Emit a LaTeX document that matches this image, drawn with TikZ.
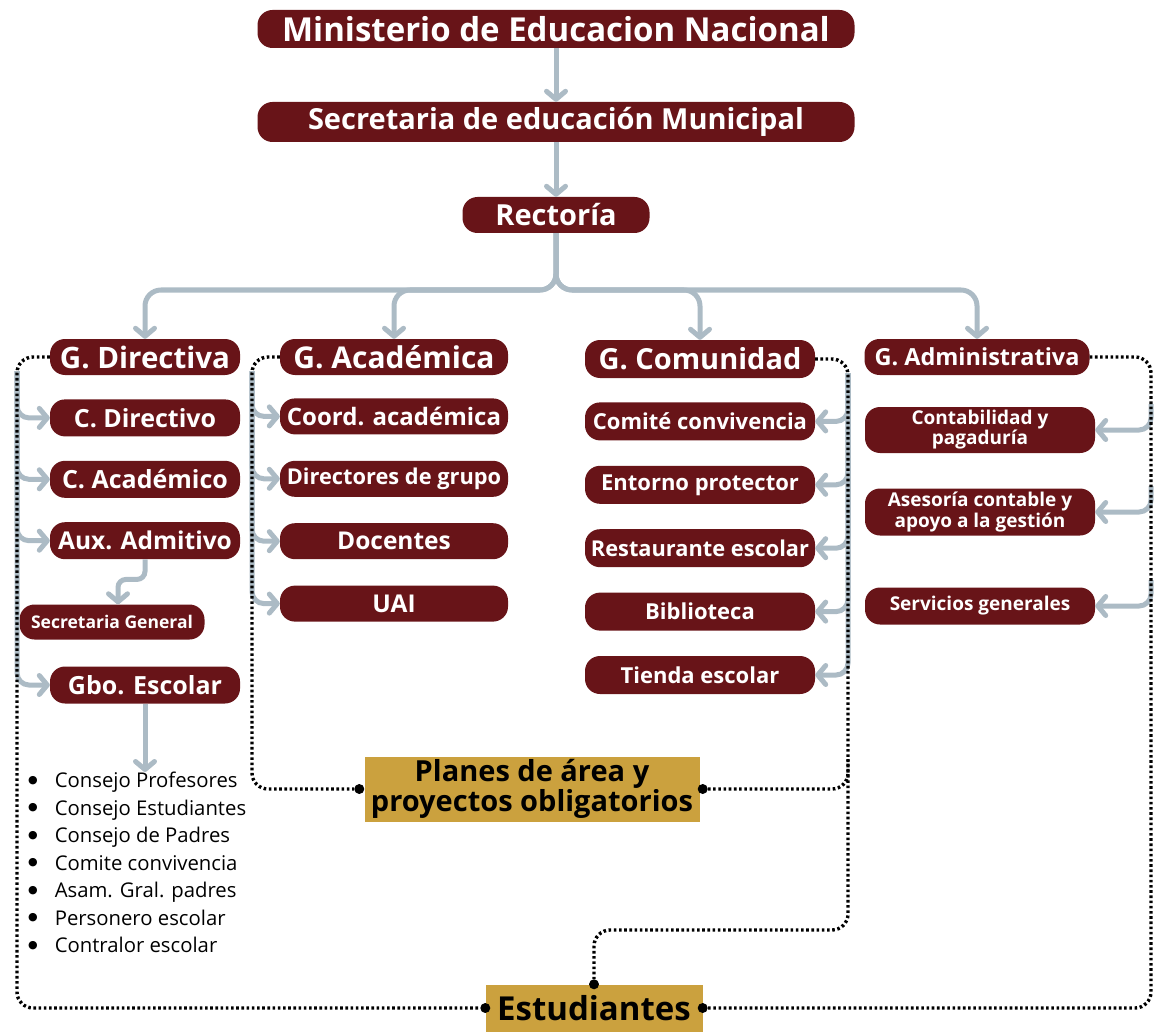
\documentclass[tikz,border=0pt]{standalone}
\usepackage{fontspec}
\setmainfont{Open Sans}
\newfontfamily\symfont{DejaVu Sans}
\usetikzlibrary{positioning, arrows.meta, calc}

\definecolor{vino}{RGB}{104,20,24}
\definecolor{dorado}{RGB}{203,161,62}
\definecolor{gris}{RGB}{172,187,197}

\newcommand{\fsz}[2]{\fontsize{#1}{#2}\selectfont}
\newcommand{\bala}{\raisebox{4.5pt}{\symfont\fsz{11}{11}●}\hspace{17pt}}

\begin{document}
\begin{tikzpicture}[
    x=1pt, y=-1pt,
    pill/.style={
        rectangle,
        rounded corners=15pt,
        fill=vino,
        text=white,
        inner sep=0pt,
        minimum height=37pt,
        align=center,
        font=\bfseries
    },
    dirbox/.style={pill, minimum width=190pt, font=\fsz{25}{29}\bfseries},
    acabox/.style={pill, minimum width=228pt, minimum height=36pt},
    combox/.style={pill, minimum width=230pt, minimum height=38pt, font=\fsz{22}{26}\bfseries},
    admbox/.style={pill, minimum width=230pt, font=\fsz{19}{17}\bfseries},
    goldbox/.style={
        rectangle,
        fill=dorado,
        text=black,
        inner sep=0pt,
        align=center,
        font=\bfseries
    },
    conn/.style={
        draw=gris,
        line width=5pt,
        -{Straight Barb[length=8pt, width=19pt, round]},
        rounded corners=12pt
    },
    dots/.style={
        draw=black,
        line width=3.4pt,
        dash pattern=on 2.6pt off 2.6pt,
        rounded corners=16pt
    },
    blob/.style={
        circle,
        fill=black,
        inner sep=0pt,
        minimum size=10pt
    }
]
    \useasboundingbox (0,0) rectangle (1156,1032);

    % -- Top of the hierarchy --
    \node[pill, minimum width=597pt, minimum height=38pt, font=\fsz{33}{36}\bfseries] (men) at (556,29) {Ministerio de Educacion Nacional};
    \node[pill, minimum width=597pt, minimum height=40pt, font=\fsz{29}{33}\bfseries] (sem) at (556,122) {Secretaria de educación Municipal};
    \node[pill, minimum width=187pt, minimum height=36pt, font=\fsz{29}{33}\bfseries] (rect) at (556,215) {Rectoría};

    % -- The four areas --
    \node[pill, minimum width=190pt, minimum height=36pt, font=\fsz{29.5}{33}\bfseries] (gdir) at (145,357) {G. Directiva};
    \node[acabox, font=\fsz{30}{34}\bfseries] (gaca) at (394,357) {G. Académica};
    \node[pill, minimum width=230pt, minimum height=38pt, font=\fsz{29}{33}\bfseries] (gcom) at (700,359) {G. Comunidad};
    \node[pill, minimum width=225pt, minimum height=36pt, font=\fsz{23.5}{27}\bfseries] (gadm) at (977,357) {G. Administrativa};

    % -- G. Directiva --
    \node[dirbox, below=24pt of gdir] (cdir) {C. Directivo};
    \node[dirbox, below=24pt of cdir] (cacad) {C. Académico};
    \node[dirbox, font=\fsz{24.5}{29}\bfseries, below=24pt of cacad] (aux) {Aux. Admitivo};
    \node[pill, minimum width=185pt, minimum height=35pt, font=\fsz{17.5}{20}\bfseries] (sgen) at (112,622) {Secretaria General};
    \node[dirbox] (gbo) at (145,685) {Gbo. Escolar};

    \node[anchor=north west, inner sep=0pt, align=left, font=\fsz{20.3}{27.5}] (lista) at (28,772) {%
        \bala Consejo Profesores\\
        \bala Consejo Estudiantes\\
        \bala Consejo de Padres\\
        \bala Comite convivencia\\
        \bala Asam. Gral. padres\\
        \bala Personero escolar\\
        \bala Contralor escolar};

    % -- G. Académica --
    \node[acabox, font=\fsz{24}{28}\bfseries, below=23pt of gaca] (coord) {Coord. académica};
    \node[acabox, font=\fsz{21.8}{26}\bfseries, below=26pt of coord] (dgrupo) {Directores de grupo};
    \node[acabox, font=\fsz{24.5}{28}\bfseries, below=26pt of dgrupo] (doc) {Docentes};
    \node[acabox, font=\fsz{24.5}{28}\bfseries, below=26pt of doc] (uai) {UAI};

    % -- G. Comunidad --
    \node[combox, below=24pt of gcom] (ccon) {Comité convivencia};
    \node[combox, below=25pt of ccon] (ento) {Entorno protector};
    \node[combox, font=\fsz{21.8}{26}\bfseries, below=25pt of ento] (rest) {Restaurante escolar};
    \node[combox, below=25pt of rest] (bibl) {Biblioteca};
    \node[combox, below=25pt of bibl] (tien) {Tienda escolar};

    % -- G. Administrativa --
    \node[admbox, minimum height=46pt] (cont) at (980,430) {Contabilidad y\\pagaduría};
    \node[admbox, minimum height=47pt] (ases) at (980,512) {Asesoría contable y\\apoyo a la gestión};
    \node[admbox] (serv) at (980,606) {Servicios generales};

    % -- Gold boxes and their dots --
    \node[goldbox, minimum width=335pt, minimum height=65pt, font=\fsz{29}{27}\bfseries] (plan) at (532,789) {Planes de área y\\proyectos obligatorios};
    \node[goldbox, minimum width=217pt, minimum height=47pt, font=\fsz{33}{36}\bfseries] (est) at (594,1008) {Estudiantes};

    \node[blob] (planL) at ($(plan.west)+(-5,0)$) {};
    \node[blob] (planR) at ($(plan.east)+(3,0)$) {};
    \node[blob] (estL) at (est.west) {};
    \node[blob] (estR) at (est.east) {};
    \node[blob] (estT) at (est.north) {};

    \coordinate (split) at (556,290);
    \coordinate (busdir) at (17,0);
    \coordinate (busaca) at (252,0);
    \coordinate (buscom) at (848,0);
    \coordinate (busadm) at (1151,0);
    \coordinate (estmid) at (0,930);

    % Gray arrows down the hierarchy
    \draw[conn] (men.south) -- (sem.north);
    \draw[conn] (sem.south) -- (rect.north);
    \draw[conn, rounded corners=16pt] (rect.south) -- (split) -| (gdir.north);
    \draw[conn, rounded corners=16pt] (rect.south) -- (split) -| (gaca.north);
    \draw[conn, rounded corners=16pt] (rect.south) -- (split) -| (gcom.north);
    \draw[conn, rounded corners=16pt] (rect.south) -- (split) -| (gadm.north);

    \foreach \n in {cdir, cacad, aux, gbo}
        \draw[conn] ($(gdir.west -| busdir)+(0,14)$) |- (\n.west);
    \draw[conn, rounded corners=8pt] (aux.south) -- ++(0,20) -| ($(sgen.north)+(6,0)$);
    \draw[conn] (gbo.south) -- (gbo.south |- lista.north);

    \foreach \n in {coord, dgrupo, doc, uai}
        \draw[conn] ($(gaca.west -| busaca)+(0,14)$) |- (\n.west);

    \foreach \n in {ccon, ento, rest, bibl, tien}
        \draw[conn] ($(gcom.east -| buscom)+(0,14)$) |- (\n.east);

    \foreach \n in {cont, ases, serv}
        \draw[conn] ($(\n.east -| busadm)+(0,-26)$) |- (\n.east);

    % Dotted links to the gold boxes
    \draw[dots] (gdir.west) -| (busdir |- estL) -- (estL);
    \draw[dots] (gaca.west) -| (busaca |- planL) -- (planL);
    \draw[dots] (gcom.east) -| (buscom |- estmid) -| (estT);
    \draw[dots] (planR) -- (buscom |- planR) -- ++(0,-30);
    \draw[dots] (gadm.east) -| (busadm |- estR) -- (estR);

\end{tikzpicture}
\end{document}
